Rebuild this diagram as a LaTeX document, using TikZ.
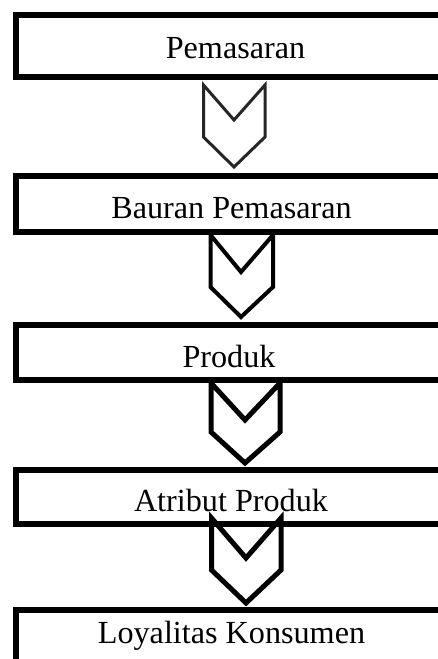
\documentclass[tikz,border=0pt]{standalone}
\usepackage{fontspec}
\setmainfont{Liberation Serif}
\begin{document}
\begin{tikzpicture}[x=1bp,y=-1bp,
  boxline/.style={line width=6bp,draw=black},
  label/.style={anchor=base,inner sep=0pt,font=\fontsize{32.3}{36}\selectfont},
  chev/.style={line width=#1,draw=black,line join=miter},
  chev/.default=5bp]
\useasboundingbox (0,0) rectangle (438,659);
\clip (0,0) rectangle (438,659);
% boxes
\draw[boxline] (480,15) -- (16,15) -- (16,77) -- (480,77);
\draw[boxline] (480,176) -- (16,176) -- (16,232) -- (480,232);
\draw[boxline] (480,325) -- (16,325) -- (16,380) -- (480,380);
\draw[boxline] (480,470) -- (16,470) -- (16,524) -- (480,524);
\draw[boxline] (480,610) -- (16,610) -- (16,700);
% labels
\node[label] (b1) at (235.5,59) {Pemasaran};
\node[label] (b2) at (231.5,218) {Bauran Pemasaran};
\node[label] (b3) at (229,367) {Produk};
\node[label] (b4) at (231,511) {Atribut Produk};
\node[label] (b5) at (231.5,643) {Loyalitas Konsumen};
% chevrons
\draw[chev=3bp,draw=black!85] (203.5,85) -- (234,120) -- (265,85) -- (265,137) -- (234,167) -- (203.5,137) -- cycle;
\draw[chev=4bp] (210.5,235) -- (241,272) -- (273,235) -- (273,287) -- (241,317) -- (210.5,287) -- cycle;
\draw[chev=5bp] (211,383) -- (245,420) -- (280,383) -- (280,432) -- (245,463) -- (211,432) -- cycle;
\draw[chev=5bp] (211.5,518) -- (246,558) -- (281,518) -- (281,570) -- (246,603) -- (211.5,570) -- cycle;
\end{tikzpicture}
\end{document}
